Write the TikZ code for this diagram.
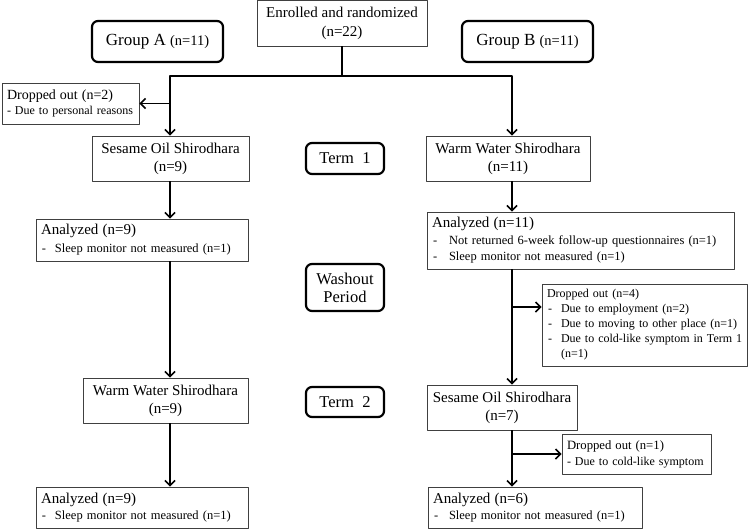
\documentclass[tikz,border=0pt]{standalone}
\usepackage{fontspec}
\setmainfont{Liberation Serif}
\usetikzlibrary{arrows.meta}
\newcommand\itm{\hspace*{1pt}\makebox[13pt][l]{-}}
\newcommand\hd[1]{{\fontsize{15}{16}\selectfont #1}}
\begin{document}
\begin{tikzpicture}[x=1pt,y=-1pt,line join=round,
	box/.style={draw=black!75,line width=0.9pt,inner sep=0pt,align=center,font=\fontsize{15}{18}\selectfont},
	sbox/.style={draw=black!75,line width=0.9pt,inner xsep=5pt,inner ysep=0pt,align=left,font=\fontsize{12.5}{15}\selectfont},
	rbox/.style={draw,line width=2.2pt,rounded corners=6pt,inner sep=0pt,align=center,minimum width=78pt,font=\fontsize{16.5}{18}\selectfont},
	ln/.style={line width=1.5pt},
	arr/.style={line width=1.5pt,-{Straight Barb[length=5pt,width=10pt]}}]
	\useasboundingbox (0,0) rectangle (752,530);
	%==Cột dọc của hai nhóm
	\coordinate (colA) at (170,0);
	\coordinate (colB) at (512,0);
	%==============
	\node[box,minimum width=170pt,minimum height=46pt,font=\fontsize{15}{19}\selectfont] (enrol) at (342,23) {Enrolled and randomized\\(n=22)};
	\node[rbox,minimum width=131pt,minimum height=41pt,font=\fontsize{17}{18}\selectfont] (grpA) at (157.5,41.5) {Group A {\fontsize{14.5}{16}\selectfont(n=11)}};
	\node[rbox,minimum width=131pt,minimum height=41pt,font=\fontsize{17}{18}\selectfont] (grpB) at (527.5,41.5) {Group B {\fontsize{14.5}{16}\selectfont(n=11)}};
	\node[sbox,text width=127pt,minimum height=41pt,font=\fontsize{12}{15}\selectfont] (drop1) at (70.5,103.5) {{\fontsize{14}{15}\selectfont Dropped out (n=2)}\\- Due to personal reasons};
	\node[box,minimum width=157pt,minimum height=45pt] (sesA) at (170.5,158.5) {Sesame Oil Shirodhara\\(n=9)};
	\node[rbox,minimum height=31pt] (term1) at (345,158.5) {Term\ \ 1};
	\node[box,minimum width=164pt,minimum height=45pt] (wwB) at (508,158.5) {Warm Water Shirodhara\\(n=11)};
	\node[sbox,text width=202pt,minimum height=42pt,font=\fontsize{12.5}{16}\selectfont] (anaA1) at (142,240) {\hd{Analyzed (n=9)}\\[2pt]\itm Sleep monitor not measured (n=1)};
	\node[sbox,text width=297pt,minimum height=57pt,font=\fontsize{12.5}{16.5}\selectfont] (anaB1) at (580.5,240.5) {\hd{Analyzed (n=11)}\\\itm\hspace*{3pt}Not returned 6-week follow-up questionnaires (n=1)\\\itm\hspace*{3pt}Sleep monitor not measured (n=1)};
	\node[rbox,minimum height=47pt] (wash) at (345,287.5) {Washout\\Period};
	\node[sbox,text width=195pt,minimum height=82pt,font=\fontsize{12}{15}\selectfont] (drop4) at (644.5,325) {Dropped out (n=4)\\\itm Due to employment (n=2)\\\itm Due to moving to other place (n=1)\\\mbox{\itm Due to cold-like symptom in Term 1}\\\hspace*{14pt}(n=1)};
	\node[box,minimum width=165pt,minimum height=45pt] (wwA) at (165.5,400.5) {Warm Water Shirodhara\\(n=9)};
	\node[rbox,minimum height=30pt] (term2) at (345,402) {Term\ \ 2};
	\node[box,minimum width=150pt,minimum height=45pt] (sesB) at (502,407.5) {Sesame Oil Shirodhara\\(n=7)};
	\node[sbox,text width=139pt,minimum height=40pt,font=\fontsize{12}{16}\selectfont] (drop1b) at (636.5,454) {{\fontsize{12.7}{16}\selectfont Dropped out (n=1)}\\- Due to cold-like symptom};
	\node[sbox,text width=202pt,minimum height=41pt,font=\fontsize{12.5}{16}\selectfont] (anaA2) at (142,507.5) {\hd{Analyzed (n=9)}\\\itm Sleep monitor not measured (n=1)};
	\node[sbox,text width=204pt,minimum height=41pt,font=\fontsize{12.5}{16}\selectfont] (anaB2) at (535,507.5) {\hd{Analyzed (n=6)}\\\itm\hspace*{2pt}Sleep monitor not measured (n=1)};
	%==Đường nối
	\coordinate (split) at (enrol.south |- 0,76);
	\draw[ln] (enrol.south)--(split);
	\draw[arr] (split)-|(sesA.north -| colA);
	\draw[arr] (split)-|(wwB.north -| colB);
	\draw[arr] (drop1.east -| colA)--(drop1.east);
	\draw[arr] (sesA.south -| colA)--(anaA1.north -| colA);
	\draw[arr] (anaA1.south -| colA)--(wwA.north -| colA);
	\draw[arr] (wwA.south -| colA)--(anaA2.north -| colA);
	\draw[arr] (wwB.south -| colB)--(anaB1.north -| colB);
	\draw[arr] (anaB1.south -| colB)--(sesB.north -| colB);
	\coordinate (br4) at (colB |- 0,307);
	\draw[arr] (br4)--(br4 -| drop4.west);
	\draw[arr] (sesB.south -| colB)--(anaB2.north -| colB);
	\draw[arr] (drop1b.west -| colB)--(drop1b.west);
\end{tikzpicture}
\end{document}
